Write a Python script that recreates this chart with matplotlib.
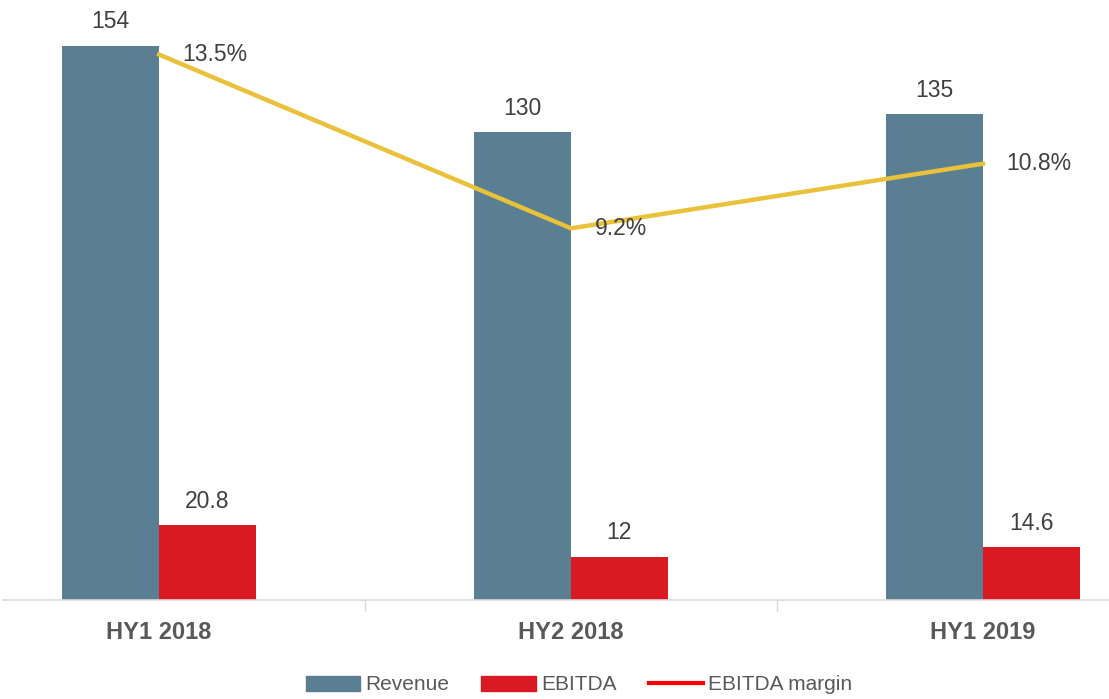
import numpy as np
import matplotlib.pyplot as plt
from matplotlib.patches import Patch
from matplotlib.lines import Line2D

plt.rcParams['font.family'] = ['Liberation Sans', 'DejaVu Sans']

categories = ['HY1 2018', 'HY2 2018', 'HY1 2019']
revenue = [154, 130, 135]
ebitda = [20.8, 12, 14.6]
margin = [13.5, 9.2, 10.8]
revenue_labels = ['154', '130', '135']
ebitda_labels = ['20.8', '12', '14.6']
margin_labels = ['13.5%', '9.2%', '10.8%']

fig = plt.figure(figsize=(11.09, 6.99), dpi=100)
ax = fig.add_axes([3 / 1109, 99 / 699, 1106 / 1109, 590 / 699])

x = np.arange(len(categories))
w = 0.235
ax.bar(x - w / 2, revenue, w, color='#5A7F93')
ax.bar(x + w / 2, ebitda, w, color='#DA1A23')

for xi, v, t in zip(x, revenue, revenue_labels):
    ax.text(xi - w / 2, v + 3.5, t, ha='center', va='bottom', fontsize=16.5, color='#404040')
for xi, v, t in zip(x, ebitda, ebitda_labels):
    ax.text(xi + w / 2, v + 3.5, t, ha='center', va='bottom', fontsize=16.5, color='#404040')

ax.set_xlim(-0.379, 2.306)
ax.set_ylim(0, 164)
for s in ['top', 'right', 'left']:
    ax.spines[s].set_visible(False)
ax.spines['bottom'].set_color('#d9d9d9')
ax.spines['bottom'].set_linewidth(1.2)
ax.set_yticks([])
ax.set_xticks([0.5, 1.5])
ax.set_xticklabels([])
ax.tick_params(axis='x', length=8, color='#d9d9d9', width=1)
for xi, c in zip(x, categories):
    ax.text(xi, -32 / 3.597, c, ha='center', va='center', fontsize=17,
            fontweight='bold', color='#595959', transform=ax.transData)

ax2 = ax.twinx()
ax2.plot(x, margin, color='#E9C13B', linewidth=3.2)
for xi, v, t in zip(x, margin, margin_labels):
    ax2.annotate(t, (xi, v), xytext=(17, 0), textcoords='offset points',
                 ha='left', va='center', fontsize=16.5, color='#404040')
ax2.set_ylim(0, 590 / 40.4)
ax2.set_yticks([])
for s in ['top', 'right', 'left', 'bottom']:
    ax2.spines[s].set_visible(False)

handles = [Patch(color='#5A7F93', label='Revenue'),
           Patch(color='#DA1A23', label='EBITDA'),
           Line2D([0], [0], color='#FF0000', linewidth=3, label='EBITDA margin')]
fig.legend(handles=handles, loc='center', bbox_to_anchor=(0.522, 14 / 699), ncol=3,
           frameon=False, fontsize=15, handlelength=2.6, handleheight=0.75,
           columnspacing=1.55, handletextpad=0.25, labelcolor='#595959')

fig.savefig('out.png', dpi=100)
